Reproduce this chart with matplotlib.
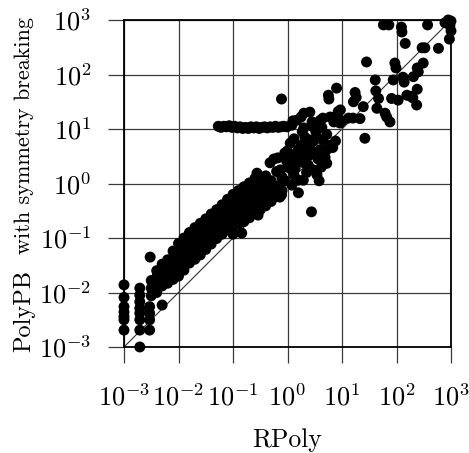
import matplotlib
matplotlib.use('Agg')
import numpy as np
from matplotlib import pyplot as plt
from matplotlib.ticker import FixedLocator, FixedFormatter, NullLocator

# Computer Modern look
plt.rcParams['font.family'] = 'serif'
plt.rcParams['font.serif'] = ['cmr10']
plt.rcParams['mathtext.fontset'] = 'cm'
plt.rcParams['axes.unicode_minus'] = False

# runtimes, stored as log10(seconds): (RPoly, PolyPB with symmetry breaking)
# discrete columns at the timer resolution
col_1ms = [(-3.00, -1.86), (-3.00, -2.09), (-3.00, -2.26), (-3.00, -2.36),
           (-3.00, -2.44), (-3.00, -2.50), (-3.00, -2.69)]
col_2ms = [(-2.71, -1.92), (-2.71, -2.05), (-2.71, -2.17), (-2.71, -2.29),
           (-2.71, -2.38), (-2.71, -2.50), (-2.71, -2.69), (-2.71, -3.00)]
col_3ms = [(-2.53, -2.26), (-2.53, -2.38), (-2.53, -2.50), (-2.53, -2.69),
           (-2.52, -1.35), (-2.30, -2.23)]

# the dense band above the diagonal
band = [
    (-2.50, -2.06), (-2.50, -1.92), (-2.50, -1.78),
    (-2.40, -2.00), (-2.40, -1.86), (-2.40, -1.72), (-2.40, -1.60),
    (-2.30, -1.88), (-2.30, -1.74), (-2.30, -1.61), (-2.30, -1.48),
    (-2.20, -1.83), (-2.20, -1.69), (-2.20, -1.55), (-2.20, -1.40),
    (-2.10, -1.76), (-2.10, -1.62), (-2.10, -1.48), (-2.10, -1.36), (-2.10, -1.24),
    (-2.00, -1.70), (-2.00, -1.56), (-2.00, -1.42), (-2.00, -1.28), (-2.00, -1.10),
    (-1.90, -1.59), (-1.90, -1.45), (-1.90, -1.31), (-1.90, -1.15), (-1.90, -1.00),
    (-1.80, -1.46), (-1.80, -1.33), (-1.80, -1.19), (-1.80, -1.04), (-1.80, -0.90),
    (-1.70, -1.39), (-1.70, -1.25), (-1.70, -1.10), (-1.70, -0.95), (-1.70, -0.81),
    (-1.60, -1.31), (-1.60, -1.17), (-1.60, -1.02), (-1.60, -0.88), (-1.60, -0.73),
    (-1.50, -1.21), (-1.50, -1.07), (-1.50, -0.93), (-1.50, -0.79), (-1.50, -0.65),
    (-1.40, -1.11), (-1.40, -0.97), (-1.40, -0.84), (-1.40, -0.70), (-1.40, -0.56),
    (-1.30, -1.01), (-1.30, -0.88), (-1.30, -0.75), (-1.30, -0.61), (-1.30, -0.48),
    (-1.20, -0.93), (-1.20, -0.80), (-1.20, -0.66), (-1.20, -0.52), (-1.20, -0.39),
    (-1.10, -0.85), (-1.10, -0.71), (-1.10, -0.57), (-1.10, -0.43), (-1.10, -0.29),
    (-1.00, -0.79), (-1.00, -0.65), (-1.00, -0.50), (-1.00, -0.35), (-1.00, -0.20),
    (-0.90, -0.74), (-0.90, -0.60), (-0.90, -0.45), (-0.90, -0.28), (-0.90, -0.13),
    (-0.80, -0.70), (-0.80, -0.55), (-0.80, -0.38), (-0.80, -0.22), (-0.80, -0.06),
    (-0.70, -0.63), (-0.70, -0.48), (-0.70, -0.31), (-0.70, -0.15), (-0.70, 0.01),
    (-0.60, -0.55), (-0.60, -0.40), (-0.60, -0.24), (-0.60, -0.08), (-0.60, 0.09),
    (-0.50, -0.48), (-0.50, -0.30), (-0.50, -0.12), (-0.50, 0.05), (-0.56, 0.19),
    (-0.40, -0.41), (-0.40, -0.22), (-0.40, -0.03), (-0.40, 0.14),
    (-0.30, -0.33), (-0.30, -0.15), (-0.30, 0.05), (-0.32, 0.38),
    (-0.20, -0.24), (-0.20, -0.05), (-0.20, 0.22), (-0.25, 0.45),
    (-0.10, -0.13), (-0.10, 0.10), (-0.13, 0.25), (-0.18, 0.47),
    (-1.00, -0.93), (-0.84, -0.91), (-0.54, -0.58), (-0.36, -0.17),
    (-0.14, -0.25), (-0.11, -0.21),
]

# the plateau near 10 s
plateau = [
    (-1.27, 1.05), (-1.22, 1.03), (-1.17, 1.05), (-1.12, 1.04), (-1.07, 1.06),
    (-1.02, 1.03), (-0.97, 1.05), (-0.92, 1.02), (-0.87, 1.04), (-0.82, 1.01),
    (-0.77, 1.03), (-0.72, 1.01), (-0.67, 1.04), (-0.62, 1.02), (-0.57, 1.04),
    (-0.52, 1.01), (-0.47, 1.03), (-0.42, 1.04), (-0.37, 1.02), (-0.32, 1.04),
    (-0.27, 1.03), (-0.22, 1.05), (-0.17, 1.03), (-0.12, 1.04), (-0.07, 1.05),
    (-0.01, 1.04), (0.08, 1.07), (0.17, 1.16), (0.10, 1.15),
]

# scattered points around 1-30 s
middle = [
    (-0.05, 0.56), (0.00, 0.60), (0.17, 0.55), (0.20, 0.62), (0.30, 0.50),
    (0.00, 0.30), (0.08, 0.25), (0.14, 0.28), (-0.05, 0.05), (-0.10, 0.12),
    (0.23, 0.43), (0.30, 0.38), (0.38, 0.34), (0.47, 0.25), (0.54, 0.16),
    (0.72, 0.37), (0.20, 0.06), (0.29, 0.06), (0.20, -0.17), (0.44, -0.52),
    (0.32, 0.85), (0.40, 0.80), (0.47, 0.77), (0.55, 0.83), (0.65, 0.80),
    (0.72, 0.62), (0.78, 0.70), (0.83, 0.66), (0.69, 0.48), (0.40, 0.52),
    (0.47, 0.58), (0.25, 1.22), (0.30, 1.29), (0.41, 1.31), (0.45, 1.13),
    (0.50, 1.10), (0.60, 1.16), (0.65, 1.20), (0.78, 1.22), (0.83, 1.21),
    (0.96, 1.11), (0.97, 1.35), (1.12, 1.20), (1.20, 1.20), (1.33, 1.19),
    (0.93, 1.32), (0.30, 1.02), (0.45, 1.05), (0.63, 1.03), (0.85, 1.13),
    (1.00, 1.15), (1.42, 0.83),
    (0.10, 0.45), (0.25, 0.70), (0.36, 0.66), (0.56, 0.45), (0.60, 0.62),
    (0.12, 0.82), (0.05, 0.74), (0.52, 0.95), (0.62, 0.30), (0.35, 0.20),
    (0.08, -0.03), (0.72, 0.90), (0.88, 0.78), (0.58, 0.05), (-0.02, 0.42),
    (0.27, 0.95), (0.12, 0.15),
]

# the upper right part
upper = [
    (-0.11, 1.55), (0.90, 1.75), (0.75, 1.62), (0.76, 1.55), (1.24, 1.67),
    (1.21, 1.50), (1.26, 1.58), (1.39, 1.41), (1.61, 1.90), (1.62, 1.70),
    (1.67, 1.56), (1.64, 1.38), (1.79, 1.29), (1.82, 1.22), (1.88, 1.13),
    (1.94, 1.90), (1.91, 1.56), (2.03, 1.53), (1.97, 2.21), (1.99, 2.12),
    (1.45, 2.23), (2.12, 1.95), (2.14, 1.86), (2.19, 1.62), (2.26, 1.60),
    (2.30, 1.57), (2.37, 1.44), (2.38, 1.73), (2.31, 1.96), (2.38, 2.12),
    (2.40, 2.05), (2.49, 2.21), (2.47, 2.49), (2.52, 2.49), (2.77, 2.48),
    (2.16, 2.57), (2.10, 2.78), (2.09, 2.87), (1.76, 2.91), (1.86, 2.91),
    (2.57, 2.91), (2.95, 3.00), (3.00, 2.98), (2.98, 2.90), (3.00, 2.80),
    (2.97, 2.65), (2.89, 2.95),
]

decades = [-3, -2, -1, 0, 1, 2, 3]
tick_labels = ['$10^{%d}$' % d for d in decades]

points = col_1ms + col_2ms + col_3ms + band + plateau + middle + upper
rpoly = 10.0 ** np.array([p[0] for p in points])
polypb = 10.0 ** np.array([p[1] for p in points])

fig = plt.figure(figsize=(4.69, 4.53), dpi=100)
ax = fig.add_axes([124 / 469, 1 - 347 / 453, 327 / 469, 327 / 453])
ax.set_xscale('log')
ax.set_yscale('log')
ax.set_xlim(1e-3, 1e3)
ax.set_ylim(1e-3, 1e3)

# diagonal
ax.plot([1e-3, 1e3], [1e-3, 1e3], color='#333333', lw=0.8, zorder=2)
ax.scatter(rpoly, polypb, s=62, c='black', edgecolors='none', zorder=3, clip_on=False)

ticks = [10.0 ** d for d in decades]
for axis in (ax.xaxis, ax.yaxis):
    axis.set_major_locator(FixedLocator(ticks))
    axis.set_major_formatter(FixedFormatter(tick_labels))
    axis.set_minor_locator(NullLocator())

ax.grid(True, color='#3a3a3a', lw=0.9, zorder=0)
ax.set_axisbelow(True)
ax.tick_params(axis='both', which='major', direction='out', length=11.5,
               width=0.9, color='#3a3a3a', labelsize=19, pad=12)
ax.tick_params(axis='x', pad=15)
for sp in ax.spines.values():
    sp.set_linewidth(1.3)
    sp.set_color('black')

# axis labels
fig.text(287.5 / 469, 1 - 440 / 453, 'RPoly', fontsize=18.5, ha='center', va='center')
fig.text(30 / 469, 1 - 352 / 453, 'PolyPB', fontsize=17.5, rotation=90,
         rotation_mode='anchor', ha='left', va='baseline')
fig.text(30 / 469, 1 - 254 / 453, 'with symmetry breaking', fontsize=16, rotation=90,
         rotation_mode='anchor', ha='left', va='baseline')

plt.savefig('out.png', dpi=100)
